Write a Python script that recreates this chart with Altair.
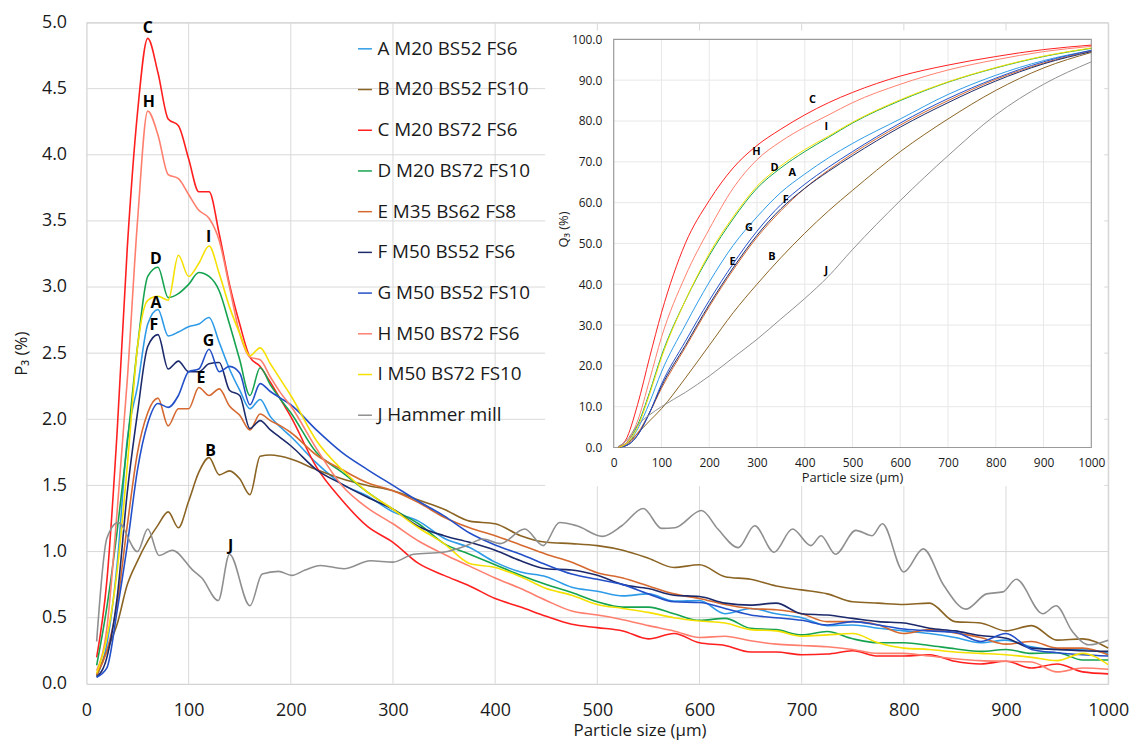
import altair as alt
import pandas as pd

# ---------------- data ----------------
CODES = list("ABCDEFGHIJ")
NAMES = ["A M20 BS52 FS6", "B M20 BS52 FS10", "C M20 BS72 FS6", "D M20 BS72 FS10",
         "E M35 BS62 FS8", "F M50 BS52 FS6", "G M50 BS52 FS10", "H M50 BS72 FS6",
         "I M50 BS72 FS10", "J Hammer mill"]
COLORS = ["#2e9be8", "#8b6424", "#ff1f1f", "#16a34f", "#d5692f",
          "#1c2a6b", "#2350c9", "#ff7f6e", "#f5e000", "#8f8f8f"]

X_MAIN = [10, 20, 30, 40, 50, 60, 70, 80, 90, 100, 110, 120, 130, 140, 150, 160, 170, 180, 190, 200,
          225, 250, 275, 300, 325, 350, 375, 400, 425, 450, 475, 500, 525, 550, 575, 600,
          625, 650, 675, 700, 725, 750, 775, 800, 825, 850, 875, 900, 925, 950, 975, 1000]

P3_A = [0.06, 0.30, 0.90, 1.85, 2.25, 2.72, 2.83, 2.63, 2.66, 2.70, 2.72, 2.77, 2.58, 2.38, 2.22, 2.08, 2.15, 2.02, 1.94, 1.87,
        1.67, 1.51, 1.42, 1.30, 1.23, 1.10, 1.03, 0.92, 0.845, 0.81, 0.73, 0.70, 0.665, 0.68, 0.625, 0.63,
        0.53, 0.57, 0.53, 0.50, 0.44, 0.445, 0.42, 0.40, 0.38, 0.35, 0.31, 0.33, 0.28, 0.26, 0.26, 0.23]
P3_B = [0.06, 0.25, 0.45, 0.75, 0.93, 1.08, 1.20, 1.30, 1.18, 1.38, 1.60, 1.71, 1.58, 1.61, 1.55, 1.43, 1.72, 1.73, 1.72, 1.70,
        1.62, 1.55, 1.50, 1.46, 1.39, 1.32, 1.23, 1.21, 1.12, 1.07, 1.06, 1.045, 1.01, 0.95, 0.88, 0.90,
        0.81, 0.79, 0.74, 0.71, 0.68, 0.62, 0.61, 0.60, 0.61, 0.47, 0.46, 0.40, 0.44, 0.33, 0.34, 0.27]
P3_C = [0.20, 0.78, 1.90, 3.30, 4.32, 4.88, 4.62, 4.27, 4.22, 3.97, 3.72, 3.72, 3.40, 3.02, 2.72, 2.47, 2.40, 2.28, 2.15, 2.02,
        1.64, 1.39, 1.19, 1.07, 0.91, 0.82, 0.74, 0.645, 0.58, 0.51, 0.45, 0.425, 0.40, 0.34, 0.38, 0.31,
        0.29, 0.24, 0.24, 0.22, 0.225, 0.25, 0.21, 0.21, 0.22, 0.17, 0.15, 0.17, 0.12, 0.15, 0.09, 0.075]
P3_D = [0.14, 0.58, 1.15, 1.82, 2.55, 3.08, 3.15, 2.92, 2.95, 3.02, 3.11, 3.08, 2.97, 2.72, 2.45, 2.18, 2.39, 2.26, 2.15, 2.05,
        1.75, 1.60, 1.45, 1.32, 1.21, 1.06, 0.98, 0.90, 0.82, 0.75, 0.69, 0.62, 0.58, 0.58, 0.53, 0.48,
        0.495, 0.42, 0.41, 0.37, 0.395, 0.34, 0.31, 0.31, 0.29, 0.265, 0.245, 0.26, 0.23, 0.235, 0.18, 0.18]
P3_E = [0.07, 0.25, 0.60, 1.20, 1.75, 2.05, 2.16, 1.95, 2.08, 2.08, 2.24, 2.18, 2.23, 2.10, 2.03, 1.92, 2.04, 1.99, 1.95, 1.90,
        1.73, 1.62, 1.52, 1.46, 1.37, 1.26, 1.18, 1.12, 1.05, 0.98, 0.92, 0.84, 0.80, 0.74, 0.68, 0.645,
        0.60, 0.57, 0.56, 0.53, 0.47, 0.47, 0.445, 0.38, 0.41, 0.385, 0.35, 0.30, 0.32, 0.27, 0.27, 0.22]
P3_F = [0.05, 0.20, 0.65, 1.45, 2.05, 2.55, 2.64, 2.38, 2.44, 2.36, 2.36, 2.42, 2.43, 2.22, 2.18, 1.93, 1.99, 1.92, 1.86, 1.80,
        1.62, 1.51, 1.41, 1.32, 1.19, 1.12, 1.07, 1.01, 0.93, 0.87, 0.86, 0.82, 0.75, 0.72, 0.67, 0.66,
        0.61, 0.595, 0.61, 0.53, 0.52, 0.495, 0.47, 0.46, 0.42, 0.40, 0.365, 0.345, 0.27, 0.26, 0.25, 0.245]
P3_G = [0.05, 0.12, 0.55, 1.05, 1.62, 1.97, 2.12, 2.09, 2.18, 2.36, 2.38, 2.53, 2.36, 2.40, 2.35, 2.11, 2.27, 2.21, 2.16, 2.11,
        1.92, 1.75, 1.62, 1.50, 1.38, 1.27, 1.14, 1.05, 0.98, 0.90, 0.83, 0.79, 0.75, 0.68, 0.62, 0.615,
        0.57, 0.52, 0.50, 0.48, 0.445, 0.47, 0.445, 0.415, 0.40, 0.39, 0.32, 0.38, 0.26, 0.235, 0.22, 0.21]
P3_H = [0.10, 0.42, 1.30, 2.30, 3.50, 4.33, 4.15, 3.85, 3.82, 3.70, 3.58, 3.52, 3.35, 3.00, 2.65, 2.47, 2.45, 2.32, 2.20, 2.10,
        1.78, 1.50, 1.33, 1.21, 1.08, 0.98, 0.89, 0.80, 0.72, 0.63, 0.55, 0.52, 0.485, 0.44, 0.40, 0.35,
        0.36, 0.325, 0.30, 0.29, 0.28, 0.26, 0.23, 0.23, 0.21, 0.19, 0.175, 0.17, 0.165, 0.09, 0.12, 0.11]
P3_I = [0.08, 0.35, 0.85, 1.65, 2.55, 2.90, 2.93, 2.90, 3.24, 3.08, 3.18, 3.31, 3.10, 2.85, 2.65, 2.48, 2.54, 2.42, 2.30, 2.18,
        1.84, 1.62, 1.45, 1.32, 1.18, 1.06, 0.91, 0.88, 0.81, 0.72, 0.67, 0.60, 0.57, 0.54, 0.50, 0.475,
        0.46, 0.41, 0.40, 0.36, 0.37, 0.38, 0.31, 0.27, 0.26, 0.24, 0.23, 0.22, 0.20, 0.175, 0.23, 0.145]

X_J = [10, 20, 31, 50, 60, 71, 84, 104, 113, 129, 140, 160, 172, 188, 201, 214, 229, 252, 278, 300,
       320, 349, 372, 388, 405, 429, 447, 463, 480, 505, 524, 545, 563, 576, 602, 618, 638, 654, 673, 691,
       709, 719, 733, 753, 769, 779, 800, 819, 839, 861, 881, 897, 910, 936, 949, 965, 981, 1000]
P3_J = [0.32, 1.10, 1.22, 1.00, 1.17, 0.97, 1.01, 0.86, 0.80, 0.63, 0.98, 0.59, 0.83, 0.85, 0.82, 0.86, 0.895, 0.87, 0.93, 0.92,
        0.98, 0.995, 1.045, 1.095, 1.06, 1.17, 1.045, 1.22, 1.195, 1.115, 1.195, 1.325, 1.175, 1.18, 1.31, 1.17, 1.03, 1.195, 0.995, 1.17,
        1.045, 1.12, 0.98, 1.16, 1.12, 1.21, 0.845, 1.02, 0.745, 0.565, 0.68, 0.695, 0.79, 0.53, 0.59, 0.395, 0.295, 0.33]

# inset: cumulative Q3
X_Q = [10, 25, 50, 75, 100, 150, 200, 250, 300, 350, 400, 450, 500, 600, 700, 800, 900, 1000]
Q3_A = [0.1, 0.6, 4.5, 11.0, 18.5, 30.0, 40.5, 49.5, 56.5, 62.5, 67.0, 71.0, 74.5, 80.5, 86.5, 91.2, 94.8, 97.3]
Q3_B = [0.1, 0.8, 3.5, 6.5, 9.5, 17.0, 25.0, 33.0, 40.0, 46.5, 52.5, 58.0, 63.0, 72.5, 80.5, 87.5, 93.0, 96.8]
Q3_C = [0.2, 1.8, 10.5, 22.0, 33.0, 50.0, 60.5, 68.5, 74.0, 78.0, 81.5, 84.5, 87.0, 91.0, 93.7, 95.8, 97.5, 98.6]
Q3_D = [0.1, 1.0, 5.5, 13.5, 22.5, 36.0, 47.0, 56.0, 63.5, 68.5, 72.5, 76.0, 79.5, 85.0, 89.5, 93.0, 95.8, 97.8]
Q3_E = [0.1, 0.5, 3.5, 8.5, 14.5, 24.5, 34.5, 43.5, 51.5, 58.0, 63.5, 68.0, 72.0, 79.0, 85.0, 90.2, 94.2, 97.2]
Q3_F = [0.1, 0.4, 3.0, 8.5, 15.0, 25.0, 35.0, 44.0, 52.0, 58.5, 63.5, 67.7, 71.5, 78.5, 84.5, 89.8, 94.0, 97.0]
Q3_G = [0.1, 0.4, 3.0, 8.5, 15.5, 26.0, 36.0, 45.0, 53.0, 59.5, 64.5, 68.7, 72.5, 79.5, 85.5, 90.5, 94.5, 97.3]
Q3_H = [0.1, 1.0, 6.5, 16.5, 27.0, 42.0, 53.5, 63.5, 70.5, 75.0, 78.5, 81.5, 84.5, 89.0, 92.5, 95.0, 97.0, 98.3]
Q3_I = [0.1, 0.8, 5.0, 13.0, 22.0, 36.0, 47.5, 56.5, 64.0, 69.0, 73.0, 76.3, 79.7, 85.2, 89.6, 93.1, 95.9, 97.9]
Q3_J = [0.3, 1.5, 5.5, 8.0, 10.0, 13.5, 17.5, 22.0, 26.5, 31.5, 36.5, 42.0, 48.5, 60.5, 71.5, 81.5, 89.0, 94.5]

# letter labels
MAIN_LBL = ["C", "H", "D", "A", "F", "I", "G", "E", "B", "J"]
MAIN_LBL_X = [60, 61, 68, 68, 66, 119.5, 119.5, 112, 121.5, 141]
MAIN_LBL_Y = [4.96, 4.40, 3.21, 2.88, 2.71, 3.38, 2.59, 2.31, 1.76, 1.04]
INSET_LBL = ["C", "I", "H", "D", "A", "F", "G", "E", "B", "J"]
INSET_LBL_X = [416, 445, 299, 337, 374, 360, 283, 249, 331, 445]
INSET_LBL_Y = [85.2, 78.6, 72.3, 68.6, 67.2, 60.6, 53.8, 45.5, 46.7, 43.3]

X_TICKS = list(range(0, 1001, 100))
Y_TICKS = [i * 0.5 for i in range(11)]
Q_Y_TICKS = list(range(0, 101, 10))

# ---------------- layout (pixels, relative to main plot) ----------------
W, H = 1029, 666
IN_L, IN_R, IN_T, IN_B = 531, 1012, 17, 428       # inset plot rectangle
BOX_L, BOX_R, BOX_T, BOX_B = 462, 1025, 8, 467     # white inset background


def qx(px):
    return (px - IN_L) / (IN_R - IN_L) * 1000.0


def qy(py):
    return (IN_B - py) / (IN_B - IN_T) * 100.0


def MX():
    return alt.Scale(domain=[0, 1000], nice=False, zero=False)


def MY():
    return alt.Scale(domain=[0, 5], nice=False, zero=False)


def QX():
    return alt.Scale(domain=[qx(0), qx(W)], nice=False, zero=False)


def QY():
    return alt.Scale(domain=[qy(H), qy(0)], nice=False, zero=False)


FONT = "Open Sans"
TXT = "#1a1a1a"
GRID_MAIN = "#d9d9d9"
GRID_INSET = "#e8e8e8"

# ---------------- frames ----------------
P3 = dict(zip(CODES, [P3_A, P3_B, P3_C, P3_D, P3_E, P3_F, P3_G, P3_H, P3_I, P3_J]))
Q3 = dict(zip(CODES, [Q3_A, Q3_B, Q3_C, Q3_D, Q3_E, Q3_F, Q3_G, Q3_H, Q3_I, Q3_J]))

rows = []
for code, name in zip(CODES, NAMES):
    xs = X_J if code == "J" else X_MAIN
    for x, v in zip(xs, P3[code]):
        rows.append({"size": x, "p3": v, "series": name})
main_df = pd.DataFrame(rows)

qrows = []
for code, name in zip(CODES, NAMES):
    for x, v in zip(X_Q, Q3[code]):
        qrows.append({"qsize": x, "q3": v, "series": name})
inset_df = pd.DataFrame(qrows)

main_lbl_df = pd.DataFrame({"t": MAIN_LBL, "x": MAIN_LBL_X, "y": MAIN_LBL_Y})
inset_lbl_df = pd.DataFrame({"t": INSET_LBL, "x": INSET_LBL_X, "y": INSET_LBL_Y})


def color_enc():
    return alt.Color(
        "series:N",
        scale=alt.Scale(domain=NAMES, range=COLORS),
        legend=alt.Legend(title=None, orient="none", legendX=271, legendY=17, direction="vertical",
                          symbolType="stroke", symbolSize=196, symbolStrokeWidth=1.5,
                          labelFontSize=19, labelFont=FONT, labelColor=TXT, labelOffset=3,
                          rowPadding=21, labelLimit=400, padding=0, offset=0),
    )


# ---------------- main chart ----------------
mvgrid_df = pd.DataFrame({"g": X_TICKS[1:], "y0": 0, "y1": 5})
mhgrid_df = pd.DataFrame({"g": Y_TICKS[1:], "x0": 0, "x1": 1000})

main_vgrid = alt.Chart(mvgrid_df).mark_rule(color=GRID_MAIN, strokeWidth=1).encode(
    x=alt.X("g:Q", scale=MX(), axis=None),
    y=alt.Y("y0:Q", scale=MY(), axis=None), y2="y1:Q")

main_hgrid = alt.Chart(mhgrid_df).mark_rule(color=GRID_MAIN, strokeWidth=1).encode(
    y=alt.Y("g:Q", scale=MY(), axis=None),
    x=alt.X("x0:Q", scale=MX(), axis=None), x2="x1:Q")

main_x = alt.X("size:Q", scale=MX(),
               axis=alt.Axis(orient="bottom", values=X_TICKS, format="d", title="Particle size (µm)",
                             grid=False, domain=False, ticks=False, labelFontSize=18,
                             labelPadding=18, labelColor=TXT, labelFlush=False, titleFontSize=17,
                             titleFontWeight="normal", titleColor=TXT, titleX=557, titleY=47,
                             titleBaseline="middle"))
main_y = alt.Y("p3:Q", scale=MY(),
               axis=alt.Axis(orient="left", values=Y_TICKS, format=".1f", title="P₃ (%)", grid=False,
                             domain=False, ticks=False, labelFontSize=18,
                             labelPadding=20, labelColor=TXT, titleFontSize=17, titleFontWeight="normal",
                             titleColor=TXT, titleX=-65, titleY=333, titleAngle=270,
                             titleBaseline="middle"))

main_lines = alt.Chart(main_df).mark_line(strokeWidth=1.6, interpolate="monotone").encode(
    x=main_x, y=main_y, color=color_enc(), order=alt.Order("size:Q"))

main_labels = alt.Chart(main_lbl_df).mark_text(
    font=FONT, fontSize=16, fontWeight="bold", color="black", baseline="middle", align="center"
).encode(
    x=alt.X("x:Q", scale=MX(), axis=None),
    y=alt.Y("y:Q", scale=MY(), axis=None),
    text="t:N")

# ---------------- inset ----------------
box_df = pd.DataFrame({"x0": [qx(BOX_L)], "x1": [qx(BOX_R)], "y0": [qy(BOX_B)], "y1": [qy(BOX_T)]})
frame_df = pd.DataFrame({"x0": [0], "x1": [1000], "y0": [0], "y1": [100]})
vgrid_df = pd.DataFrame({"g": X_TICKS[1:-1], "y0": 0, "y1": 100})
hgrid_df = pd.DataFrame({"g": Q_Y_TICKS[1:-1], "x0": 0, "x1": 1000})

bg = alt.Chart(box_df).mark_rect(fill="white").encode(
    x=alt.X("x0:Q", scale=QX(), axis=None), x2="x1:Q",
    y=alt.Y("y0:Q", scale=QY(), axis=None), y2="y1:Q")

vgrid = alt.Chart(vgrid_df).mark_rule(color=GRID_INSET, strokeWidth=1).encode(
    x=alt.X("g:Q", scale=QX(), axis=None),
    y=alt.Y("y0:Q", scale=QY(), axis=None), y2="y1:Q")

hgrid = alt.Chart(hgrid_df).mark_rule(color=GRID_INSET, strokeWidth=1).encode(
    y=alt.Y("g:Q", scale=QY(), axis=None),
    x=alt.X("x0:Q", scale=QX(), axis=None), x2="x1:Q")

frame = alt.Chart(frame_df).mark_rect(fillOpacity=0, stroke="#9a9a9a", strokeWidth=1.2).encode(
    x=alt.X("x0:Q", scale=QX(), axis=None), x2="x1:Q",
    y=alt.Y("y0:Q", scale=QY(), axis=None), y2="y1:Q")

inset_x = alt.X("qsize:Q", scale=QX(),
                axis=alt.Axis(orient="bottom", offset=-(H - IN_B), values=X_TICKS, format="d", grid=False,
                              domain=False, ticks=False, labelFontSize=12, labelPadding=10,
                              labelColor=TXT, labelFlush=False, title="Particle size (µm)",
                              titleFontSize=13, titleFontWeight="normal", titleColor=TXT,
                              titleX=771, titleY=30, titleBaseline="middle", zindex=2))
inset_y = alt.Y("q3:Q", scale=QY(),
                axis=alt.Axis(orient="left", offset=-IN_L, values=Q_Y_TICKS, format=".1f", grid=False,
                              domain=False, ticks=False, labelFontSize=12, labelPadding=12,
                              labelColor=TXT, title="Q₃ (%)", titleFontSize=13,
                              titleFontWeight="normal", titleColor=TXT, titleX=-51, titleY=208,
                              titleAngle=270, titleBaseline="middle", zindex=2))

inset_lines = alt.Chart(inset_df).mark_line(strokeWidth=1.0, interpolate="monotone").encode(
    x=inset_x, y=inset_y, color=color_enc(), order=alt.Order("qsize:Q"))

inset_labels = alt.Chart(inset_lbl_df).mark_text(
    font=FONT, fontSize=11, fontWeight="bold", color="black", baseline="middle", align="center"
).encode(
    x=alt.X("x:Q", scale=QX(), axis=None),
    y=alt.Y("y:Q", scale=QY(), axis=None),
    text="t:N")

chart = alt.layer(main_vgrid, main_hgrid, main_lines, main_labels,
                  bg, vgrid, hgrid, frame, inset_lines, inset_labels).resolve_scale(
    x="independent", y="independent", color="shared"
).properties(
    width=W, height=H,
    autosize=alt.AutoSizeParams(type="none"),
    padding={"left": 79, "top": 12, "right": 26, "bottom": 58},
).configure(font=FONT).configure_view(stroke="#c8c8c8", strokeWidth=1)

chart.save("out.html", embed_options={"renderer": "svg", "actions": False})
